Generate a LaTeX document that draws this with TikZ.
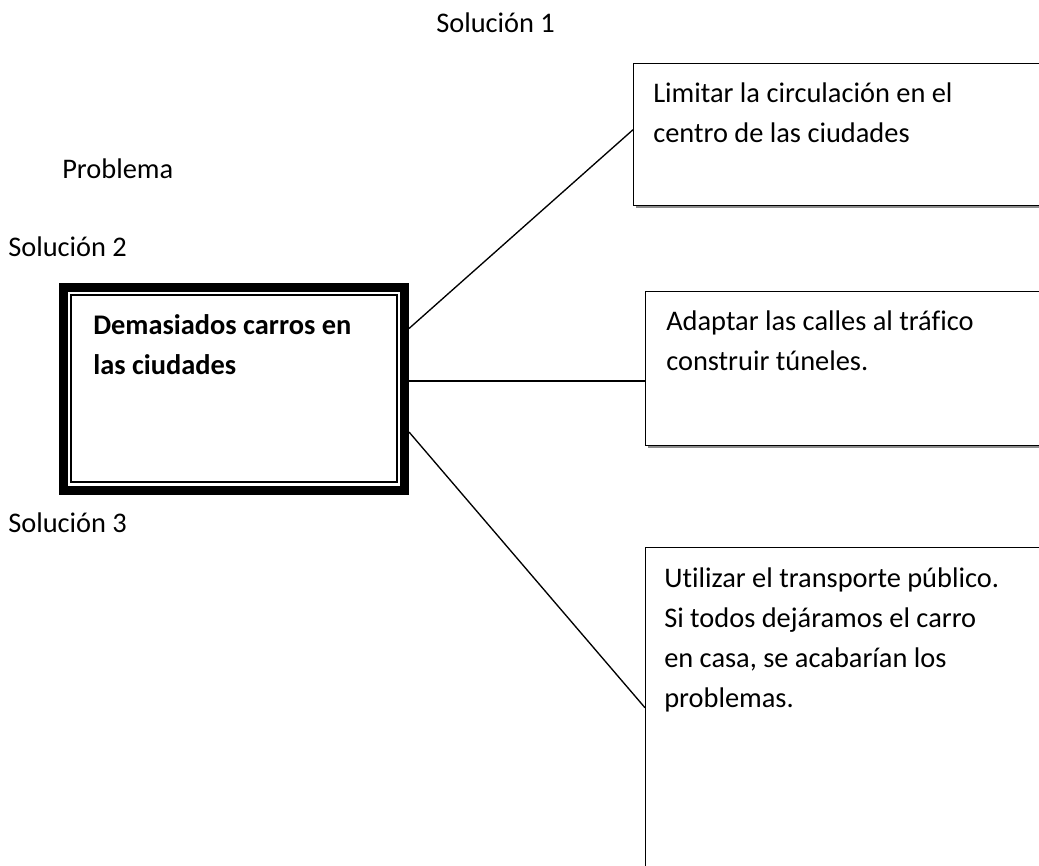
\documentclass[tikz,border=0pt]{standalone}
\usepackage{fontspec}
\setmainfont{Carlito}[Ligatures=NoCommon]
\usetikzlibrary{shadows}

\begin{document}
\begin{tikzpicture}[
  x=0.75pt, y=-0.75pt,
  font=\fontsize{21.3}{30}\selectfont,
  mapprob/.style = {draw, line width=6.75pt, minimum width=255.75pt, minimum height=152.25pt, inner sep=0pt},
  mapsol/.style = {draw, line width=1.1pt, inner sep=0pt, anchor=north west, fill=white,
    drop shadow={shadow xshift=2pt, shadow yshift=-2pt, fill=black!45, opacity=1}},
  maptxt/.style = {anchor=base west, inner sep=0pt, text width=300pt, align=flush left},
  maplbl/.style = {anchor=base west, inner sep=0pt},
  maplink/.style = {line width=1pt}
]
  \useasboundingbox (0,0) rectangle (1039,865);
  \clip (0,0) rectangle (1039,865);
  % rotulos
  \node[maplbl] (lsol1) at (436,32) {Solución 1};
  \node[maplbl] (lprob) at (62,178) {Problema};
  \node[maplbl] (lsol2) at (8,256) {Solución 2};
  \node[maplbl] (lsol3) at (8,532) {Solución 3};
  % problema
  \node[mapprob] (prob) at (234,388.5) {};
  \draw[line width=1.5pt] ([shift={(9.2pt,-9.2pt)}]prob.north west) rectangle ([shift={(-9.2pt,9.2pt)}]prob.south east);
  \node[maptxt, font=\fontsize{21.3}{30}\selectfont\bfseries] (tprob) at (93,334) {Demasiados carros en\\las ciudades};
  % soluciones
  \node[mapsol, minimum width=320pt, minimum height=106.5pt] (s1) at (633,63) {};
  \node[mapsol, minimum width=311pt, minimum height=115.5pt] (s2) at (645,291) {};
  \node[mapsol, minimum width=311pt, minimum height=240pt] (s3) at (645,547) {};
  \node[maptxt] (t1) at ([shift={(20,39)}]s1.north west) {Limitar la circulación en el\\centro de las ciudades};
  \node[maptxt] (t2) at ([shift={(21,39)}]s2.north west) {Adaptar las calles al tráfico\\construir túneles.};
  \node[maptxt] (t3) at ([shift={(19,40)}]s3.north west) {Utilizar el transporte público.\\Si todos dejáramos el carro\\en casa, se acabarían los\\problemas.};
  % conectores
  \draw[maplink] ([yshift=45pt]prob.east) -- ([yshift=3.75pt]s1.west);
  \draw[maplink] ([yshift=5.6pt]prob.east) coordinate (p2) -- (p2 -| s2.west);
  \draw[maplink] ([yshift=-32.6pt]prob.east) -- (s3.west);
\end{tikzpicture}
\end{document}
